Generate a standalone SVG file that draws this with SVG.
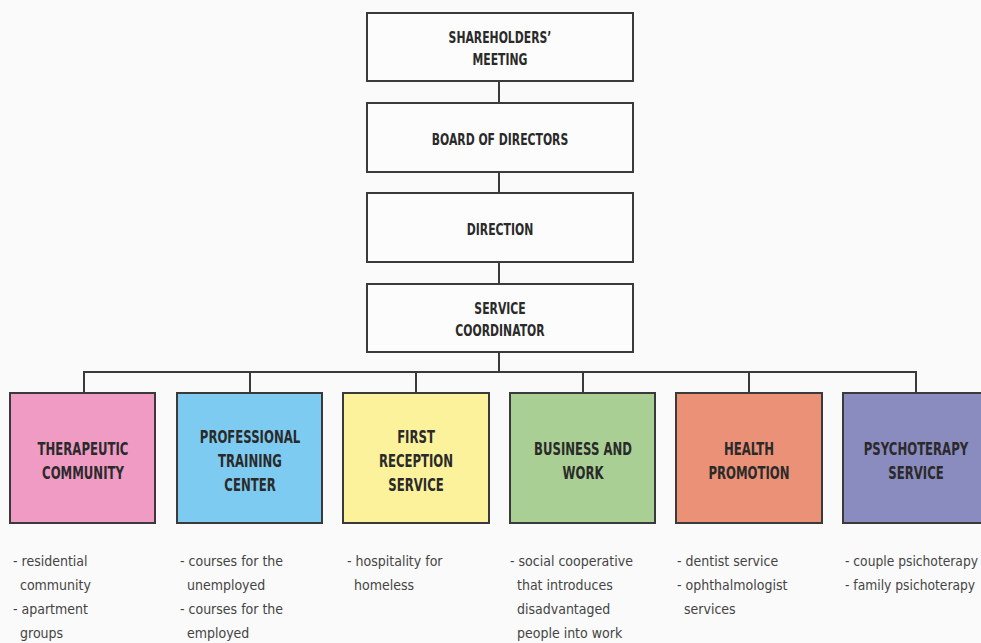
<svg xmlns="http://www.w3.org/2000/svg" width="981" height="643" viewBox="0 0 981 643">
  <style>
    .bg { fill: #fafafa; }
    .box { stroke: #3a3a3a; stroke-width: 2; }
    .plain { fill: #fcfcfc; }
    .wire { stroke: #3a3a3a; stroke-width: 2; fill: none; }
    .title { font-family: "DejaVu Sans", sans-serif; font-weight: bold; fill: #2a2a2a; text-anchor: middle; }
    .top { font-size: 15.5px; }
    .unit { font-size: 18px; }
    .note { font-family: "DejaVu Sans", sans-serif; font-size: 14px; fill: #444; }
  </style>
  <rect class="bg" x="0" y="0" width="981" height="643"/>

  <g id="connectors">
    <line class="wire" x1="499" y1="81" x2="499" y2="103"/>
    <line class="wire" x1="499" y1="172" x2="499" y2="193"/>
    <line class="wire" x1="499" y1="262" x2="499" y2="284"/>
    <line class="wire" x1="499" y1="352" x2="499" y2="372"/>
    <line class="wire" x1="83" y1="372" x2="917" y2="372"/>
    <line class="wire" x1="84" y1="371" x2="84" y2="393"/>
    <line class="wire" x1="250" y1="371" x2="250" y2="393"/>
    <line class="wire" x1="416" y1="371" x2="416" y2="393"/>
    <line class="wire" x1="583" y1="371" x2="583" y2="393"/>
    <line class="wire" x1="749" y1="371" x2="749" y2="393"/>
    <line class="wire" x1="916" y1="371" x2="916" y2="393"/>
  </g>

  <!-- condensed lettering: glyphs are narrowed with a horizontal scale -->
  <g id="shareholders">
    <rect class="box plain" x="367" y="13" width="266" height="68"/>
    <text class="title top" transform="translate(500 43) scale(0.7 1)">SHAREHOLDERS’</text>
    <text class="title top" transform="translate(500 65) scale(0.7 1)">MEETING</text>
  </g>
  <g id="board">
    <rect class="box plain" x="367" y="103" width="266" height="69"/>
    <text class="title top" transform="translate(500 145) scale(0.7 1)">BOARD OF DIRECTORS</text>
  </g>
  <g id="direction">
    <rect class="box plain" x="367" y="193" width="266" height="69"/>
    <text class="title top" transform="translate(500 235) scale(0.7 1)">DIRECTION</text>
  </g>
  <g id="coordinator">
    <rect class="box plain" x="367" y="284" width="266" height="68"/>
    <text class="title top" transform="translate(500 314) scale(0.7 1)">SERVICE</text>
    <text class="title top" transform="translate(500 336) scale(0.7 1)">COORDINATOR</text>
  </g>

  <g id="therapeutic">
    <rect class="box" fill="#f09bc4" x="10" y="393" width="145" height="130"/>
    <text class="title unit" transform="translate(83 455) scale(0.65 1)">THERAPEUTIC</text>
    <text class="title unit" transform="translate(83 479) scale(0.65 1)">COMMUNITY</text>
    <text class="note" transform="translate(13 566) scale(0.9 1)">- residential</text>
    <text class="note" transform="translate(20 590) scale(0.9 1)">community</text>
    <text class="note" transform="translate(13 614) scale(0.9 1)">- apartment</text>
    <text class="note" transform="translate(20 638) scale(0.9 1)">groups</text>
  </g>
  <g id="training">
    <rect class="box" fill="#7ecbf1" x="177" y="393" width="145" height="130"/>
    <text class="title unit" transform="translate(250 443) scale(0.65 1)">PROFESSIONAL</text>
    <text class="title unit" transform="translate(250 467) scale(0.65 1)">TRAINING</text>
    <text class="title unit" transform="translate(250 491) scale(0.65 1)">CENTER</text>
    <text class="note" transform="translate(180 566) scale(0.9 1)">- courses for the</text>
    <text class="note" transform="translate(187 590) scale(0.9 1)">unemployed</text>
    <text class="note" transform="translate(180 614) scale(0.9 1)">- courses for the</text>
    <text class="note" transform="translate(187 638) scale(0.9 1)">employed</text>
  </g>
  <g id="reception">
    <rect class="box" fill="#fbf29b" x="343" y="393" width="146" height="130"/>
    <text class="title unit" transform="translate(416 443) scale(0.65 1)">FIRST</text>
    <text class="title unit" transform="translate(416 467) scale(0.65 1)">RECEPTION</text>
    <text class="title unit" transform="translate(416 491) scale(0.65 1)">SERVICE</text>
    <text class="note" transform="translate(347 566) scale(0.9 1)">- hospitality for</text>
    <text class="note" transform="translate(354 590) scale(0.9 1)">homeless</text>
  </g>
  <g id="business">
    <rect class="box" fill="#a9cf94" x="510" y="393" width="145" height="130"/>
    <text class="title unit" transform="translate(583 455) scale(0.65 1)">BUSINESS AND</text>
    <text class="title unit" transform="translate(583 479) scale(0.65 1)">WORK</text>
    <text class="note" transform="translate(510 566) scale(0.9 1)">- social cooperative</text>
    <text class="note" transform="translate(517 590) scale(0.9 1)">that introduces</text>
    <text class="note" transform="translate(517 614) scale(0.9 1)">disadvantaged</text>
    <text class="note" transform="translate(517 638) scale(0.9 1)">people into work</text>
  </g>
  <g id="health">
    <rect class="box" fill="#ea9177" x="676" y="393" width="146" height="130"/>
    <text class="title unit" transform="translate(749 455) scale(0.65 1)">HEALTH</text>
    <text class="title unit" transform="translate(749 479) scale(0.65 1)">PROMOTION</text>
    <text class="note" transform="translate(677 566) scale(0.9 1)">- dentist service</text>
    <text class="note" transform="translate(677 590) scale(0.9 1)">- ophthalmologist</text>
    <text class="note" transform="translate(684 614) scale(0.9 1)">services</text>
  </g>
  <g id="psychotherapy">
    <rect class="box" fill="#8a8bbf" x="843" y="393" width="146" height="130"/>
    <text class="title unit" transform="translate(916 455) scale(0.65 1)">PSYCHOTERAPY</text>
    <text class="title unit" transform="translate(916 479) scale(0.65 1)">SERVICE</text>
    <text class="note" transform="translate(845 566) scale(0.88 1)">- couple psichoterapy</text>
    <text class="note" transform="translate(845 590) scale(0.88 1)">- family psichoterapy</text>
  </g>
</svg>
